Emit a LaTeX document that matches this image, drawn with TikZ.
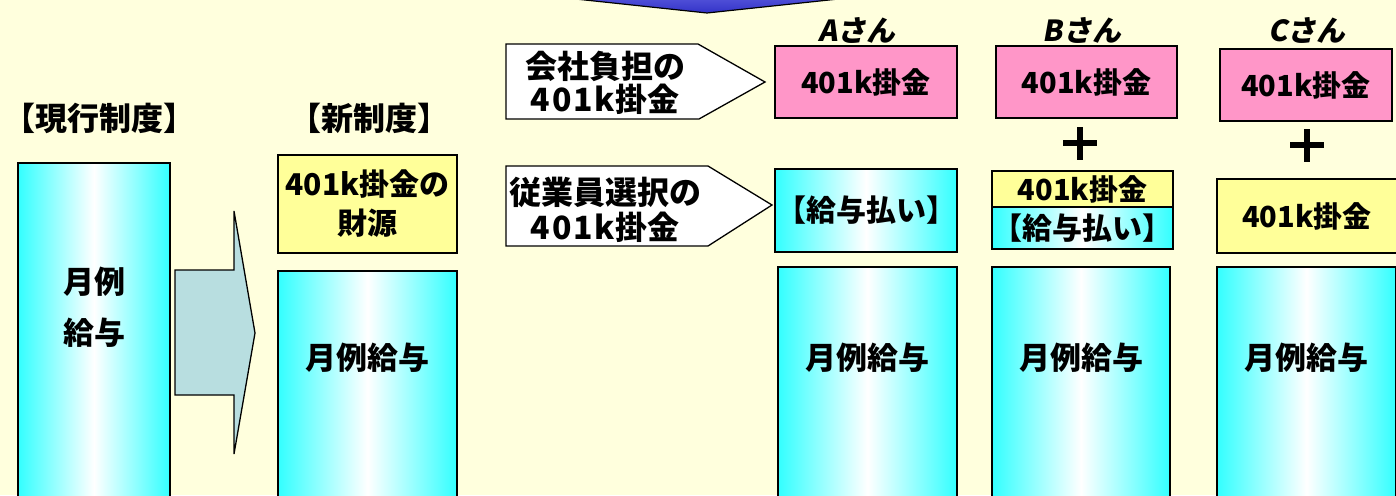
\documentclass[tikz,border=0pt]{standalone}
\usepackage{fontspec}
\setmainfont{Noto Sans CJK JP}
\newfontfamily\popfont{Noto Sans CJK JP}[FakeSlant=0.18]
\definecolor{bg}{RGB}{255,255,221}
\definecolor{cy}{RGB}{51,255,255}
\definecolor{pk}{RGB}{255,150,200}
\definecolor{yl}{RGB}{255,255,153}
\definecolor{ar}{RGB}{184,222,224}
\definecolor{bltop}{RGB}{105,105,228}
\definecolor{blbot}{RGB}{50,50,200}
\begin{document}
\begin{tikzpicture}[x=1pt,y=-1pt,
  box/.style={draw=black, line width=1.6pt, inner sep=0pt, outer sep=0pt, align=center,
    font=\bfseries\fontsize{29}{32}\selectfont},
  cyanbox/.style={box, left color=cy, right color=cy, middle color=white},
  pinkbox/.style={box, fill=pk},
  yelbox/.style={box, fill=yl},
  lbl/.style={inner sep=0pt, align=center, font=\bfseries\fontsize{31}{34}\selectfont},
  title/.style={inner sep=0pt, font=\bfseries\fontsize{32}{36}\selectfont},
  callout/.style={draw=black, line width=1.3pt, fill=white},
  calltext/.style={inner sep=0pt, align=center, font=\bfseries\fontsize{32}{33}\selectfont},
  person/.style={inner sep=0pt, font=\popfont\bfseries\fontsize{29}{32}\selectfont},
  bigarrow/.style={draw=black, line width=1.3pt, fill=ar, line join=miter},
  plus/.style={line width=5.5pt}
]
\useasboundingbox (0,0) rectangle (1396,495);
\fill[bg] (0,0) rectangle (1396,495);
\clip (0,0) rectangle (1396,495);

% top blue arrow (partially visible)
\coordinate (tl) at (463,-13);
\coordinate (tip) at (707,13);
\coordinate (tr) at (951,-13);
\shade[top color=bltop, bottom color=blbot, draw=black, line width=1.2pt] (tl) -- (tip) -- (tr) -- cycle;

% titles
\node[title] (tcur) at (99,118) {【現行制度】};
\node[title] (tnew) at (369,118) {【新制度】};

% current system
\node[cyanbox, minimum width=152, minimum height=360, anchor=north west] (cur) at (18,163) {};
\node[lbl, font=\bfseries\fontsize{31}{51}\selectfont] (curtxt) at (94,307) {月例\\給与};

% big arrow
\coordinate (a1) at (175,270);
\coordinate (a2) at (234,270);
\coordinate (a3) at (234,211);
\coordinate (a4) at (255,333);
\coordinate (a5) at (234,454);
\coordinate (a6) at (234,395);
\coordinate (a7) at (175,395);
\draw[bigarrow] (a1) -- (a2) -- (a3) -- (a4) -- (a5) -- (a6) -- (a7) -- cycle;

% new system
\node[yelbox, minimum width=179, minimum height=98, font=\bfseries\fontsize{30}{39}\selectfont] (fund) at (367.5,204) {401k掛金の\\財源};
\node[cyanbox, minimum width=179, minimum height=260, anchor=north west] (newsal) at (278,271) {};
\node[lbl] (newsaltxt) at (367,358) {月例給与};

% callouts
\coordinate (c1a) at (506,44);
\coordinate (c1b) at (698,44);
\coordinate (c1c) at (765,82);
\coordinate (c1d) at (699,119);
\coordinate (c1e) at (506,119);
\draw[callout] (c1a) -- (c1b) -- (c1c) -- (c1d) -- (c1e) -- cycle;
\node[calltext] (c1t) at (605,83) {会社負担の\\\addfontfeature{LetterSpace=6}401k\addfontfeature{LetterSpace=0}掛金};
\coordinate (c2a) at (506,166);
\coordinate (c2b) at (708,166);
\coordinate (c2c) at (772,205);
\coordinate (c2d) at (708,246);
\coordinate (c2e) at (506,246);
\draw[callout] (c2a) -- (c2b) -- (c2c) -- (c2d) -- (c2e) -- cycle;
\node[calltext, font=\bfseries\fontsize{32}{35}\selectfont] (c2t) at (605,210) {従業員選択の\\\addfontfeature{LetterSpace=6}401k\addfontfeature{LetterSpace=0}掛金};

% persons
\node[person] (pa) at (857,30) {Aさん};
\node[person] (pb) at (1082,30) {Bさん};
\node[person] (pc) at (1307,30) {Cさん};

% A
\node[pinkbox, minimum width=182, minimum height=72] (apink) at (866,82) {401k掛金};
\node[cyanbox, minimum width=182, minimum height=83, font=\bfseries\fontsize{30}{32}\selectfont] (apay) at (866,210.5) {【給与払い】};
\node[cyanbox, minimum width=179, minimum height=260, anchor=north west] (asal) at (778,267) {};
\node[lbl] (asaltxt) at (867,358) {月例給与};

% B
\node[pinkbox, minimum width=181, minimum height=72] (bpink) at (1086.5,82) {401k掛金};
\draw[plus] (1063,143) -- (1097,143) (1080,127) -- (1080,160);
\node[yelbox, minimum width=181, minimum height=36] (byel) at (1082.5,189) {401k掛金};
\node[cyanbox, minimum width=181, minimum height=42, font=\bfseries\fontsize{30}{32}\selectfont] (bpay) at (1082.5,228) {【給与払い】};
\node[cyanbox, minimum width=178, minimum height=260, anchor=north west] (bsal) at (992,267) {};
\node[lbl] (bsaltxt) at (1081,358) {月例給与};

% C
\node[pinkbox, minimum width=172, minimum height=72] (cpink) at (1306,85) {401k掛金};
\draw[plus] (1290,145) -- (1324,145) (1307,129) -- (1307,162);
\node[yelbox, minimum width=180, minimum height=74] (cyel) at (1307,216) {401k掛金};
\node[cyanbox, minimum width=179, minimum height=260, anchor=north west] (csal) at (1217,267) {};
\node[lbl] (csaltxt) at (1306,358) {月例給与};
\end{tikzpicture}
\end{document}
